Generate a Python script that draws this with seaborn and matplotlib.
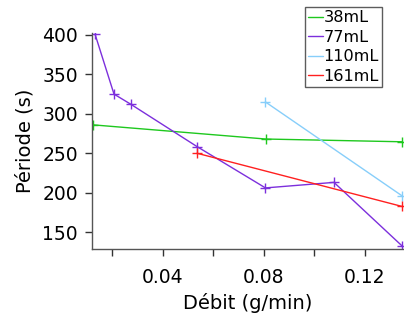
import matplotlib
matplotlib.use("Agg")
import matplotlib.pyplot as plt
from matplotlib.ticker import FixedLocator
import seaborn as sns
import pandas as pd

# Flow rate (g/min) and oscillation period (s) for each volume
x_38 = [0.0124, 0.0808, 0.1349]
y_38 = [286, 268, 264.5]

x_77 = [0.0133, 0.0208, 0.0275, 0.0536, 0.0807, 0.1078, 0.1347]
y_77 = [401, 325, 312, 258.5, 206, 213, 132.5]

x_110 = [0.0807, 0.1347]
y_110 = [315, 196]

x_161 = [0.0536, 0.1347]
y_161 = [250, 182.5]

labels = ["38mL", "77mL", "110mL", "161mL"]
colors = ["#1ec81e", "#7c2fdc", "#87cefa", "#ff2020"]

frames = []
for lab, xs, ys in zip(labels, [x_38, x_77, x_110, x_161], [y_38, y_77, y_110, y_161]):
    frames.append(pd.DataFrame({"debit": xs, "periode": ys, "volume": lab}))
df = pd.concat(frames, ignore_index=True)

sns.set_style("white")
plt.rcParams["font.family"] = ["DejaVu Sans"]
plt.rcParams["text.color"] = "black"
plt.rcParams["axes.labelcolor"] = "black"
plt.rcParams["xtick.color"] = "black"
plt.rcParams["ytick.color"] = "black"

fig = plt.figure(figsize=(4.04, 3.2), dpi=100)
ax = fig.add_axes([92 / 404, 1 - 249 / 320, (404 - 92) / 404, (249 - 33) / 320])

sns.lineplot(data=df, x="debit", y="periode", hue="volume", hue_order=labels,
             palette=colors, marker="+", markersize=7, markeredgewidth=1.0,
             linewidth=1.0, ax=ax, legend=False, sort=False, estimator=None)
# '+' markers take the colour of their series
for ln in ax.lines:
    ln.set_markeredgecolor(ln.get_color())
    ln.set_markerfacecolor(ln.get_color())

ax.set_xlim(0.0121, 0.1355)
ax.set_ylim(128.5, 402.5)
ax.set_yticks([150, 200, 250, 300, 350, 400])
ax.set_xticks([0.04, 0.08, 0.12])
ax.set_xticklabels(["0.04", "0.08", "0.12"])
ax.xaxis.set_minor_locator(FixedLocator([0.02, 0.06, 0.10]))

for s in ["top", "right"]:
    ax.spines[s].set_visible(False)
for s in ["left", "bottom"]:
    ax.spines[s].set_color("#555555")
    ax.spines[s].set_linewidth(1.0)

ax.tick_params(axis="both", which="both", direction="out", length=5, width=1,
               color="#333333", labelcolor="black", labelsize=13.5)
ax.tick_params(axis="x", which="both", bottom=True, pad=9)
ax.tick_params(axis="y", which="both", left=True, pad=5)

ax.set_xlabel("Débit (g/min)", fontsize=14, labelpad=4, color="black")
ax.set_ylabel("Période (s)", fontsize=14, labelpad=6, color="black")

handles = [plt.Line2D([0], [0], color=c, lw=1.0) for c in colors]
leg = fig.legend(handles, labels, loc="upper left", bbox_to_anchor=(305 / 404, 1 - 7 / 320),
                 frameon=True, fancybox=False, fontsize=11.6, handlelength=0.9,
                 handletextpad=0.05, borderpad=0.2, labelspacing=0.28, borderaxespad=0)
leg.get_frame().set_edgecolor("#333333")
leg.get_frame().set_linewidth(1.0)
for t in leg.get_texts():
    t.set_color("black")

fig.savefig("out.png", dpi=100)
